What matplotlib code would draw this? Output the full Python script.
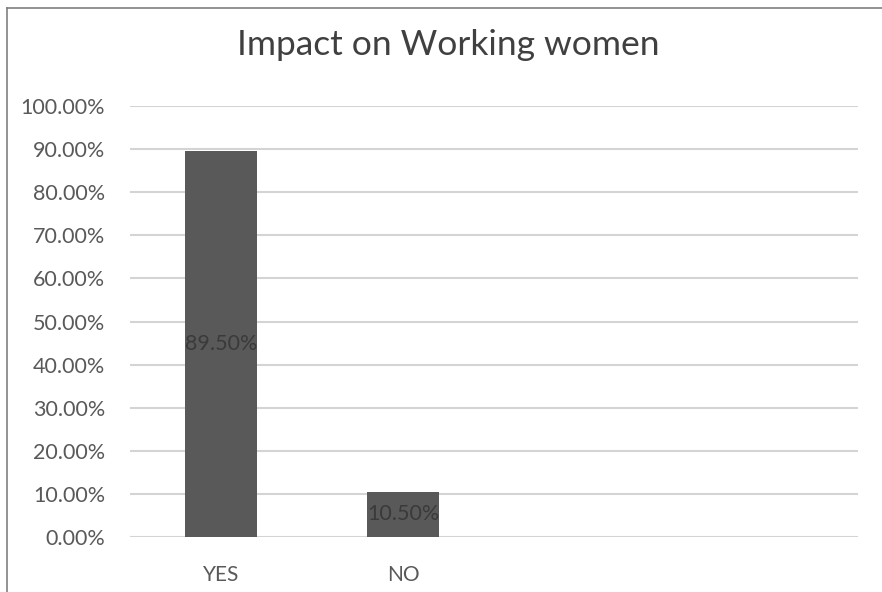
import matplotlib
matplotlib.use("Agg")
import matplotlib.pyplot as plt
from matplotlib.lines import Line2D

categories = ["YES", "NO", "", ""]
values = [0.895, 0.105, None, None]
labels = ["89.50%", "10.50%"]
yticks = [0.0, 0.1, 0.2, 0.3, 0.4, 0.5, 0.6, 0.7, 0.8, 0.9, 1.0]

plt.rcParams['font.family'] = ['Lato', 'DejaVu Sans']

fig = plt.figure(figsize=(8.82, 5.92), dpi=100)
ax = fig.add_axes([130/882, 1-537/592, 728/882, (537-106)/592])

xs = list(range(len(categories)))
bar_x = [x for x, v in zip(xs, values) if v is not None]
bar_v = [v for v in values if v is not None]
bars = ax.bar(bar_x, bar_v, width=0.4, color='#595959', zorder=3)
for b, lab in zip(bars, labels):
    ax.text(b.get_x() + b.get_width()/2, b.get_height()/2, lab,
            ha='center', va='center', fontsize=15.5, color='#3a3a3a', zorder=4)

ax.set_xlim(-0.5, len(categories) - 0.5)
ax.set_ylim(0, 1.0)
ax.set_yticks(yticks)
ax.set_yticklabels([f"{t*100:.2f}%" for t in yticks])
ax.set_xticks(xs)
ax.set_xticklabels(categories)
ax.tick_params(axis='both', length=0, labelsize=15.5, colors='#595959')
ax.tick_params(axis='y', pad=18)
ax.tick_params(axis='x', pad=20, labelsize=15)
ax.yaxis.grid(True, color='#d4d4d4', linewidth=1.5, zorder=0)
for s in ax.spines.values():
    s.set_visible(False)

fig.text(448/882, 1-45/592, "Impact on Working women", ha='center', va='center',
         fontsize=25.5, color='#404040')

# outer chart border (top and left visible)
fig.add_artist(Line2D([7/882, 7/882], [0, 1-8/592], transform=fig.transFigure, color='#808080', linewidth=1.2))
fig.add_artist(Line2D([7/882, 1], [1-8/592, 1-8/592], transform=fig.transFigure, color='#808080', linewidth=1.2))

fig.savefig("out.png", dpi=100)
